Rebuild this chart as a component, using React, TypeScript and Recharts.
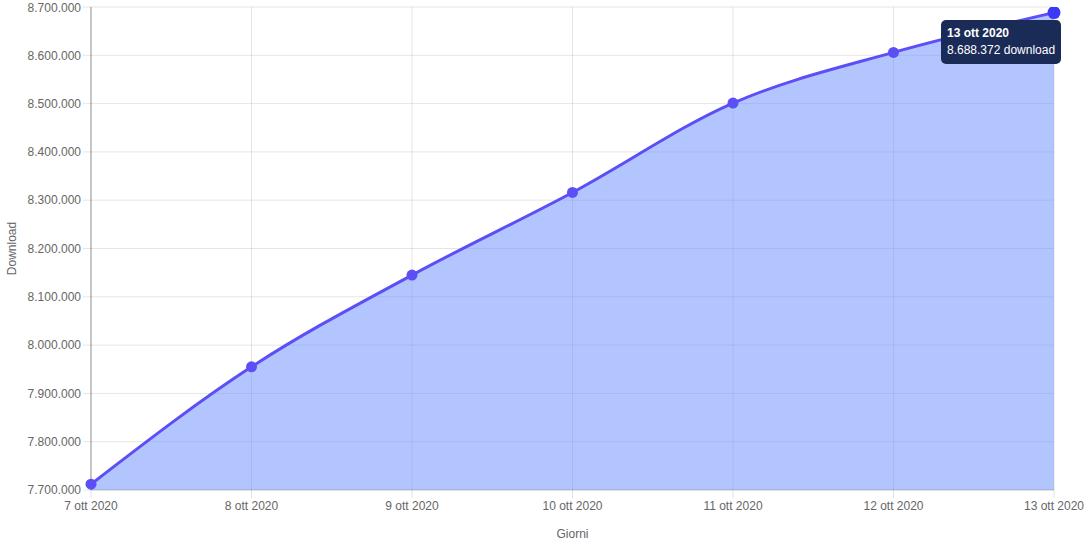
import React from 'react';
import { AreaChart, Area, XAxis, YAxis, CartesianGrid, Tooltip } from 'recharts';

const days = ['7 ott 2020', '8 ott 2020', '9 ott 2020', '10 ott 2020', '11 ott 2020', '12 ott 2020', '13 ott 2020'];
const downloads = [7712000, 7955000, 8145000, 8316000, 8501000, 8606000, 8688372];
const yTicks = [7700000, 7800000, 7900000, 8000000, 8100000, 8200000, 8300000, 8400000, 8500000, 8600000, 8700000];

const data = days.map((day, i) => ({ day, value: downloads[i] }));

// Italian thousands separator
const fmt = (n: number) => Math.round(n).toString().replace(/\B(?=(\d{3})+(?!\d))/g, '.');

const FONT = '"Liberation Sans", Arial, Helvetica, sans-serif';

function TipBox({ active, payload }: any) {
  if (!active || !payload || !payload.length) return null;
  const p = payload[0].payload;
  return (
    <div
      style={{
        background: '#1b2b57',
        color: '#fff',
        borderRadius: 5,
        padding: '5px 6px',
        fontFamily: FONT,
        fontSize: 12,
        lineHeight: '17px',
        whiteSpace: 'nowrap',
      }}
    >
      <div style={{ fontWeight: 'bold' }}>{p.day}</div>
      <div>{fmt(p.value)} download</div>
    </div>
  );
}

// rotated y axis title, centred on the plot height
function YTitle({ viewBox }: any) {
  const cy = viewBox.y + viewBox.height / 2;
  const cx = 12;
  return (
    <text
      x={cx}
      y={cy}
      transform={`rotate(-90 ${cx} ${cy})`}
      textAnchor="middle"
      dominantBaseline="central"
      fill="#666"
      fontSize={12}
    >
      Download
    </text>
  );
}

export default function App() {
  return (
    <div style={{ position: 'absolute', left: 0, top: 0, width: 1088, height: 544, background: '#fff' }}>
      <AreaChart
        width={1088}
        height={544}
        data={data}
        margin={{ top: 7, right: 34, bottom: 0, left: 0 }}
        style={{ fontFamily: FONT }}
      >
        <CartesianGrid stroke="rgba(0,0,0,0.1)" />
        <XAxis
          dataKey="day"
          height={54}
          tick={{ fill: '#666', fontSize: 12 }}
          tickSize={8}
          tickMargin={3}
          stroke="rgba(0,0,0,0.12)"
          interval={0}
          label={{ value: 'Giorni', position: 'insideBottom', offset: 6, fill: '#666', fontSize: 12 }}
        />
        <YAxis
          domain={[7700000, 8700000]}
          ticks={yTicks}
          width={91}
          tickFormatter={fmt}
          tick={{ fill: '#666', fontSize: 12 }}
          tickSize={8}
          tickMargin={2}
          stroke="#999"
          tickLine={{ stroke: 'rgba(0,0,0,0.1)' }}
          allowDataOverflow
          label={{ content: <YTitle /> }}
        />
        <Tooltip
          content={<TipBox />}
          defaultIndex={6}
          cursor={false}
          position={{ x: 941, y: 20 }}
          isAnimationActive={false}
        />
        <Area
          type="monotone"
          dataKey="value"
          stroke="#5b4ff5"
          strokeWidth={3}
          fill="rgba(104,140,255,0.5)"
          fillOpacity={1}
          dot={{ r: 5.5, fill: '#5b4ff5', stroke: '#5b4ff5', strokeWidth: 0 }}
          activeDot={{ r: 6.5, fill: '#3d3af5', stroke: '#3d3af5', strokeWidth: 0 }}
          baseValue={7700000}
          isAnimationActive={false}
        />
      </AreaChart>
    </div>
  );
}
